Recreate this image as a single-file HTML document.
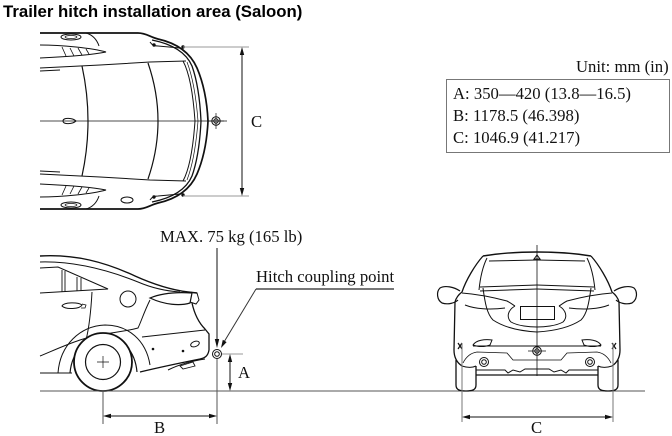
<!DOCTYPE html>
<html><head><meta charset="utf-8"><style>
html,body{margin:0;padding:0;background:#fff;}
svg{display:block;}
.t{font-family:"Liberation Serif",serif;font-size:16.7px;fill:#111;}
</style></head><body>
<svg width="672" height="436" viewBox="0 0 672 436" xmlns="http://www.w3.org/2000/svg">
<rect width="672" height="436" fill="#fff"/>
<text x="3" y="17" font-family="Liberation Sans, sans-serif" font-weight="bold" font-size="16.8" fill="#000">Trailer hitch installation area (Saloon)</text>

<!-- ============ TOP VIEW ============ -->
<g fill="none" stroke="#111" stroke-width="1">
  <g id="tophalf">
    <path d="M40,33 L138,33 C146,33 150,37 158,39 C176,43 190,52 197,68 C203,82 207,100 208,121" stroke-width="1.7"/>
    <path d="M152,40 C172,44 186,52 192,66 C197,80 200,100 201,121" stroke-width="1.3"/>
    <path d="M183,61 C189,72 193,92 195,121"/>
    <path d="M187,62 C192,75 196,95 198,121" stroke-width="0.7"/>
    <path d="M40,68 L100,65 L150,62 L186,61"/>
    <path d="M40,71 L60,70"/>
    <path d="M40,45 C62,45 92,48 106,52 C92,55 62,57 40,58"/>
    <path d="M62,47 L66,56 M70,48 L74,56 M78,48 L82,55 M86,49 L89,54" stroke-width="0.8"/>
    <ellipse cx="71" cy="37" rx="10" ry="3"/>
    <ellipse cx="71" cy="37" rx="6" ry="1.5" stroke-width="0.7"/>
    <path d="M86,33 C93,35 97,40 99,46"/>
    <path d="M150,42 C152,45 154,46 158,46 L180,48"/>
    <circle cx="154" cy="45" r="1.2" fill="#111"/>
    <circle cx="183" cy="47" r="1.2" fill="#111"/>
  </g>
  <use href="#tophalf" transform="translate(0,242) scale(1,-1)"/>
  <path d="M82,66 Q94,121 82,176" stroke-width="1.2"/>
  <path d="M148,63 Q168,121 148,179" stroke-width="1.2"/>
  <path d="M40,121 L227,121" stroke-width="0.8"/>
  <path d="M63,121 C63,117 73,118 76,121 C73,124 63,125 63,121 Z"/>
  <ellipse cx="127" cy="200" rx="6" ry="3"/>
  <!-- hitch top -->
  <circle cx="216" cy="121" r="4.2"/>
  <circle cx="216" cy="121" r="2.2"/>
  <path d="M216,113 L216,129 M208,121 L224,121" stroke-width="0.7"/>
</g>
<!-- C dim top -->
<g stroke="#999" stroke-width="1"><path d="M183,47 L249,47 M183,196 L249,196"/></g>
<path d="M242,49 L242,194" stroke="#111" stroke-width="1"/>
<path d="M242,47 L239.8,55 L244.2,55 Z M242,196 L239.8,188 L244.2,188 Z" fill="#111"/>
<text class="t" x="251" y="127">C</text>

<!-- Info box -->
<rect x="446.5" y="79.5" width="223" height="73" fill="none" stroke="#777" stroke-width="1"/>
<text class="t" x="576" y="72">Unit: mm (in)</text>
<text class="t" x="453" y="99">A: 350—420 (13.8—16.5)</text>
<text class="t" x="453" y="121">B: 1178.5 (46.398)</text>
<text class="t" x="453" y="143">C: 1046.9 (41.217)</text>

<!-- ============ SIDE VIEW ============ -->
<g fill="none" stroke="#111" stroke-width="1">
  <path d="M40,256 C75,254 105,262 135,276 C155,285 172,290 188,292 L197,293" stroke-width="1.4"/>
  <path d="M40,262 C75,261 108,270 138,282 C152,288 165,291 180,292"/>
  <path d="M188,292 L197,293 L199,300 L196,304 L190,302"/>
  <path d="M150,298 C162,293 178,292 192,293 L190,303 C180,306 165,305 150,298 Z" stroke-width="1.2"/>
  <path d="M192,303 C194,312 198,322 205,329 L209,334 L209,350 C208,356 205,358 200,359" stroke-width="1.3"/>
  <path d="M200,359 C185,362 165,366 140,372" stroke-width="1.3"/>
  <path d="M168,370 C178,365 192,361 205,359"/>
  <path d="M180,366 L193,362 L195,366 L183,369 Z" stroke-width="0.9"/>
  <path d="M142,337 L205,330"/>
  <path d="M150,300 C144,312 141,322 138,328 C125,332 100,333 80,340 C65,345 50,352 40,356"/>
  <path d="M92,292 C91,310 89,328 86,340"/>
  <path d="M40,268 L58,267 L108,289 L40,293"/>
  <path d="M62,270 L62,292 M65,271 L65,292 M77,277 L77,291 M81,278 L81,291" stroke-width="0.9"/>
  <path d="M62,306 C64,302 78,302 82,305 C80,309 66,310 62,306 Z"/>
  <path d="M82,304 L86,305 L85,308 L81,308" stroke-width="0.8"/>
  <circle cx="128" cy="299" r="8"/>
  <path d="M58,373 C60,345 80,326 105,325 C128,325 146,340 150,365" />
  <path d="M70,373 C72,350 88,336 104,336 C121,336 135,350 137,372" stroke-width="1.2"/>
  <path d="M40,373 L72,373"/>
  <ellipse cx="195" cy="344" rx="4.5" ry="2.6" transform="rotate(-20 195 344)"/>
  <circle cx="103" cy="362" r="29" stroke-width="1.8" fill="#fff"/>
  <circle cx="103" cy="362" r="17.5" stroke-width="1.2"/>
  <path d="M103,356 L103,368 M97,362 L109,362" stroke-width="0.7"/>
</g>
<circle cx="153" cy="349" r="1.3" fill="#111"/>
<circle cx="183" cy="351" r="1.3" fill="#111"/>

<!-- hitch side -->
<g fill="none" stroke="#111" stroke-width="1">
  <circle cx="217" cy="354" r="4.5"/>
  <circle cx="217" cy="354" r="2.3"/>
  <path d="M217,248 L217,340"/>
  <path d="M217,359 L217,424" stroke="#555"/>
  <path d="M103,391 L103,424" stroke="#555"/>
</g>
<path d="M217,348 L214.8,339 L219.2,339 Z" fill="#111"/>
<text class="t" x="160" y="242">MAX. 75 kg (165 lb)</text>
<text class="t" x="256" y="282">Hitch coupling point</text>
<path d="M394,289 L256,289" stroke="#777" stroke-width="2" fill="none"/>
<path d="M256,289 L224,342" stroke="#333" stroke-width="1" fill="none"/>
<path d="M221,348 L222.8,339.8 L226.6,342.1 Z" fill="#111"/>
<!-- A dim -->
<path d="M222,354 L243,354" stroke="#999" stroke-width="1"/>
<path d="M230,356 L230,389" stroke="#111" stroke-width="1"/>
<path d="M230,354 L227.8,362 L232.2,362 Z M230,391 L227.8,383 L232.2,383 Z" fill="#111"/>
<text class="t" x="238" y="378">A</text>
<!-- ground -->
<path d="M40,391 L645,391" stroke="#555" stroke-width="1"/>
<!-- B dim -->
<path d="M105,416 L215,416" stroke="#111" stroke-width="1"/>
<path d="M103,416 L111,413.8 L111,418.2 Z M217,416 L209,413.8 L209,418.2 Z" fill="#111"/>
<text class="t" x="154" y="433">B</text>

<!-- ============ REAR VIEW ============ -->
<g fill="none" stroke="#111" stroke-width="1">
  <g id="rearhalf">
    <path d="M537,252 C515,252 495,254 483,256" stroke-width="1.4"/>
    <path d="M483,256 C475,265 466,280 462,292" stroke-width="1.3"/>
    <path d="M487,258 C482,268 480,280 479,290"/>
    <path d="M489,261 L537,260"/>
    <path d="M480,287 L537,285 M480,291 L537,289"/>
    <path d="M483,288 C485,303 487,314 493,320 C505,328 520,331 537,332"/>
    <path d="M462,293 C475,294 492,297 507,301 C511,303 513,305 515,306"/>
    <path d="M465,305 C475,309 490,310 505,308"/>
    <path d="M515,306 C508,310 506,317 511,322 C518,326 530,327 537,327"/>
    <path d="M462,292 C458,295 456,298 455,302 L454,350 C454,356 456,362 462,366" stroke-width="1.3"/>
    <path d="M460,291 C454,287 445,285 440,288 C436,292 437,300 442,303 C448,305 455,303 458,300" stroke-width="1.2"/>
    <path d="M456,360 L456,385 C456,390 460,391 466,391 C472,391 476,390 476,385 L476,366" stroke-width="1.3"/>
    <path d="M462,366 C468,368 472,368 476,366"/>
    <path d="M476,375 L537,375" stroke-width="1.2"/>
    <path d="M476,370 L505,370 L508,373 L513,370 L520,372 L525,369 L537,369"/>
    <path d="M473,346 L537,346"/>
    <path d="M463,363 C466,357 470,353 477,352 L507,353 L513,360 L537,360" stroke-width="0.8"/>
    <circle cx="484" cy="362" r="4.5"/>
    <circle cx="484" cy="362" r="2.3"/>
    <path d="M473,345 C476,340 485,339 492,340 L490,345 C485,347 478,347 473,345 Z"/>
    <path d="M458,343 L462,349 M462,343 L458,349" stroke-width="1.2"/>
  </g>
  <use href="#rearhalf" transform="translate(1074,0) scale(-1,1)"/>
  <rect x="520.5" y="306.5" width="34" height="13"/>
  <path d="M534,259 L537,255 L540,259 Z"/>
  <path d="M537,245 L537,376" stroke-width="0.8"/>
  <circle cx="537" cy="351" r="4.3"/>
  <circle cx="537" cy="351" r="2.2"/>
  <path d="M528,351 L546,351" stroke-width="0.7"/>
</g>
<!-- C dim rear -->
<path d="M462,343 L462,422 M613,343 L613,422" stroke="#777" stroke-width="1"/>
<path d="M464,417 L611,417" stroke="#111" stroke-width="1"/>
<path d="M462,417 L470,414.8 L470,419.2 Z M613,417 L605,414.8 L605,419.2 Z" fill="#111"/>
<text class="t" x="531" y="433">C</text>
</svg>
</body></html>
